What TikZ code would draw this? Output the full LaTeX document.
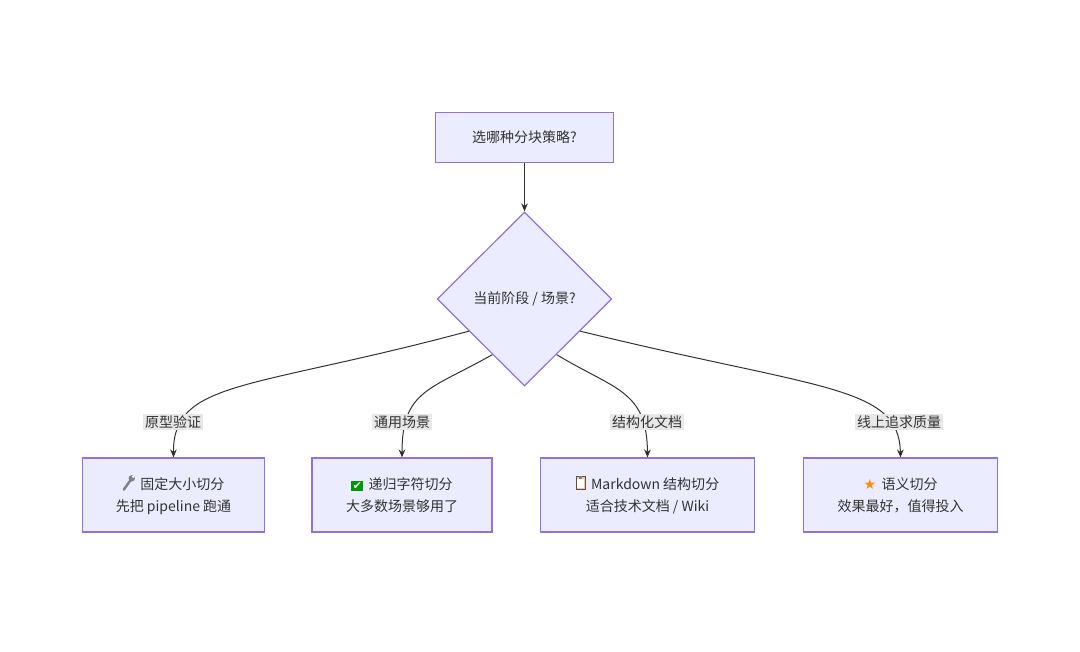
\documentclass[tikz,border=0pt]{standalone}
\usepackage{fontspec}
\setmainfont{Noto Sans CJK SC}
\newfontfamily\symfont{DejaVu Sans}
\usetikzlibrary{shapes.geometric,arrows.meta}
\definecolor{boxfill}{HTML}{ECECFF}
\definecolor{boxline}{HTML}{9370DB}
\definecolor{edgecol}{HTML}{333333}
\definecolor{lblfill}{HTML}{E8E8E8}
\newcommand{\wrenchicon}{\tikz[x=1pt,y=1pt,baseline=0pt]{\draw[gray,line width=1.8pt,line cap=round] (1.5,0) -- (6.5,7);\fill[gray] (7.5,8.5) circle (2.4pt);\fill[white] (8.6,9.8) circle (1.1pt);}}
\newcommand{\checkicon}{{\setlength{\fboxsep}{1pt}\colorbox{green!60!black}{\color{white}\symfont\fontsize{8}{9}\selectfont ✔}}}
\newcommand{\clipicon}{\tikz[x=1pt,y=1pt,baseline=0pt]{\draw[fill=brown!40,draw=brown!60!black] (0,0) rectangle (7,9.5);\fill[white] (1,1) rectangle (6,8);\fill[gray] (2.5,8) rectangle (4.5,10);}}
\begin{document}
\begin{tikzpicture}[x=0.75pt,y=-0.75pt,
	box/.style={draw=boxline,fill=boxfill,line width=0.9pt,minimum height=55.5pt,align=center,font=\fontsize{10.5}{16.5}\selectfont,text=edgecol},
	lbl/.style={fill=lblfill,inner sep=1.5pt,font=\fontsize{10.5}{12}\selectfont,text=edgecol},
	arr/.style={draw=edgecol,line width=0.75pt,-{Stealth[length=6pt,width=5pt]}}]
	\useasboundingbox (0,0) rectangle (1080,652);
	% Nodes
	\node[box,minimum width=134pt,minimum height=38pt] (q) at (524.5,137.5) {选哪种分块策略?};
	\node[draw=boxline,fill=boxfill,line width=0.9pt,diamond,minimum width=131pt,minimum height=130.5pt,inner sep=0pt,font=\fontsize{10.5}{12}\selectfont,text=edgecol] (dmd) at (524.5,299) {当前阶段 / 场景?};
	\node[box,minimum width=137pt] (b1) at (173.5,495) {\wrenchicon\, 固定大小切分\\先把 pipeline 跑通};
	\node[box,minimum width=135pt] (b2) at (402,495) {\checkicon\, 递归字符切分\\大多数场景够用了};
	\node[box,minimum width=161pt] (b3) at (647.5,495) {\clipicon\, Markdown 结构切分\\适合技术文档 / Wiki};
	\node[box,minimum width=146pt] (b4) at (900.5,495) {{\symfont\color{orange!90!yellow}★}\, 语义切分\\效果最好，值得投入};
	% Edges
	\draw[arr] (q) -- (dmd);
	\draw[arr] (dmd.210) .. controls (250,390) and (173,380) .. (b1.north);
	\draw[arr] (dmd.240) .. controls (430,390) and (402,390) .. (b2.north);
	\draw[arr] (dmd.300) .. controls (615,390) and (647,390) .. (b3.north);
	\draw[arr] (dmd.330) .. controls (820,390) and (899,385) .. (b4.north);
	% Labels
	\node[lbl] (l1) at (173,422) {原型验证};
	\node[lbl] (l2) at (402,422) {通用场景};
	\node[lbl] (l3) at (647,422) {结构化文档};
	\node[lbl] (l4) at (899,422) {线上追求质量};
\end{tikzpicture}
\end{document}
